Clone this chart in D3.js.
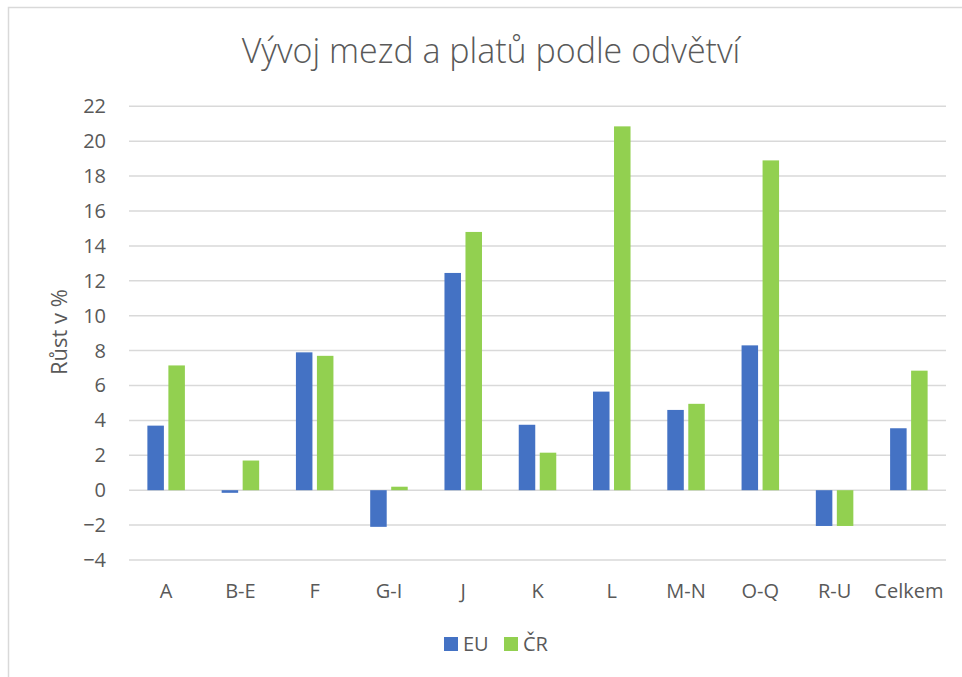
<!DOCTYPE html>
<html>
<head>
<meta charset="utf-8">
<script src="https://cdn.jsdelivr.net/npm/d3@7"></script>
<style>
  body { margin: 0; background: #fff; }
  text { font-family: "Open Sans", sans-serif; fill: #595959; }
</style>
</head>
<body>
<div id="chart"></div>
<script>
// Data
const categories = ["A", "B-E", "F", "G-I", "J", "K", "L", "M-N", "O-Q", "R-U", "Celkem"];
const seriesNames = ["EU", "ČR"];
const euValues = [3.7, -0.15, 7.9, -2.1, 12.45, 3.75, 5.65, 4.6, 8.3, -2.05, 3.55];
const crValues = [7.15, 1.7, 7.7, 0.2, 14.8, 2.15, 20.85, 4.95, 18.9, -2.05, 6.85];
const yTicks = [-4, -2, 0, 2, 4, 6, 8, 10, 12, 14, 16, 18, 20, 22];
const colors = ["#4472C4", "#92D050"];

const width = 962;
const height = 677;
const plot = { left: 129, right: 946, top: 106.3, bottom: 560 };

const svg = d3.select("#chart")
    .append("svg")
    .attr("width", width)
    .attr("height", height);

// chart frame
svg.append("rect")
    .attr("x", 8.5)
    .attr("y", 7.5)
    .attr("width", 1000)
    .attr("height", 700)
    .attr("fill", "none")
    .attr("stroke", "#d9d9d9")
    .attr("stroke-width", 1.5);

const rows = categories.map((c, i) => ({ cat: c, values: [euValues[i], crValues[i]] }));

// Scales
const x0 = d3.scaleBand()
    .domain(categories)
    .range([plot.left, plot.right])
    .padding(0);

const x1 = d3.scaleBand()
    .domain(seriesNames)
    .range([0, x0.bandwidth()])
    .paddingInner(0.214)
    .paddingOuter(0.875);

const y = d3.scaleLinear()
    .domain([-4, 22])
    .range([plot.bottom, plot.top]);

// Gridlines
svg.append("g")
    .selectAll("line")
    .data(yTicks)
    .enter()
    .append("line")
    .attr("x1", plot.left)
    .attr("x2", plot.right)
    .attr("y1", (d) => y(d))
    .attr("y2", (d) => y(d))
    .attr("stroke", "#d9d9d9")
    .attr("stroke-width", 1.5);

// Y axis labels
const yAxis = d3.axisLeft(y)
    .tickValues(yTicks)
    .tickSize(0)
    .tickPadding(23);

svg.append("g")
    .attr("transform", `translate(${plot.left}, 0)`)
    .call(yAxis)
    .call((g) => g.select(".domain").remove())
    .selectAll("text")
    .style("font-size", "20px")
    .style("font-family", "'Open Sans', sans-serif")
    .attr("fill", "#595959");

// X axis labels
const xAxis = d3.axisBottom(x0).tickSize(0).tickPadding(24);

svg.append("g")
    .attr("transform", `translate(0, ${plot.bottom})`)
    .call(xAxis)
    .call((g) => g.select(".domain").remove())
    .selectAll("text")
    .style("font-size", "20px")
    .style("font-family", "'Open Sans', sans-serif")
    .attr("fill", "#595959");

// Bars
const groups = svg.append("g")
    .selectAll("g")
    .data(rows)
    .enter()
    .append("g")
    .attr("transform", (d) => `translate(${x0(d.cat)}, 0)`);

groups.selectAll("rect")
    .data((d) => d.values.map((v, i) => ({ key: seriesNames[i], value: v, i: i })))
    .enter()
    .append("rect")
    .attr("x", (d) => x1(d.key))
    .attr("width", x1.bandwidth())
    .attr("y", (d) => y(Math.max(0, d.value)))
    .attr("height", (d) => Math.abs(y(d.value) - y(0)))
    .attr("fill", (d) => colors[d.i]);

// Title
svg.append("text")
    .attr("x", 491)
    .attr("y", 63)
    .attr("text-anchor", "middle")
    .style("font-size", "34px")
    .style("font-weight", 300)
    .text("Vývoj mezd a platů podle odvětví");

// Y axis title
svg.append("text")
    .attr("transform", "rotate(-90)")
    .attr("x", -332)
    .attr("y", 67)
    .attr("text-anchor", "middle")
    .style("font-size", "22px")
    .text("Růst v %");

// Legend
const legend = svg.append("g")
    .selectAll("g")
    .data(seriesNames)
    .enter()
    .append("g")
    .attr("transform", (d, i) => `translate(${444 + i * 60}, 637)`);

legend.append("rect")
    .attr("width", 14)
    .attr("height", 14)
    .attr("fill", (d, i) => colors[i]);

legend.append("text")
    .attr("x", 19)
    .attr("y", 14)
    .style("font-size", "20px")
    .text((d) => d);
</script>
</body>
</html>
